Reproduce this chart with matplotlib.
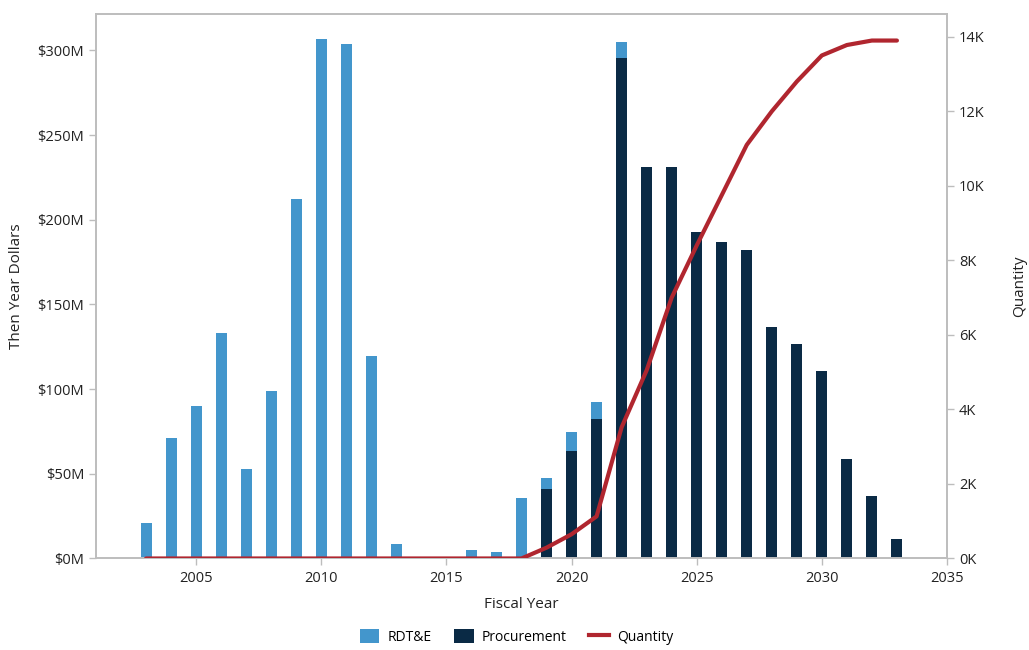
#!/usr/bin/env python3
"""Funding by fiscal year (stacked bars) with cumulative quantity line."""
import matplotlib
matplotlib.use("Agg")
import matplotlib.pyplot as plt
from matplotlib.ticker import FuncFormatter, FixedLocator
from matplotlib.patches import Patch
from matplotlib.lines import Line2D

years = list(range(2003, 2034))
# $M, then-year dollars
rdte = [21, 71, 90, 133, 53, 99, 212, 307, 304, 119.5, 8.5, 0, 0, 5, 4, 35.5,
        6.5, 11.2, 10, 9.5, 0, 0, 0, 0, 0, 0, 0, 0, 0, 0, 0]
procurement = [0, 0, 0, 0, 0, 0, 0, 0, 0, 0, 0, 0, 0, 0, 0, 0,
               41, 63.5, 82.5, 295.7, 231, 231, 192.7, 186.8, 182.2, 136.7,
               126.7, 110.7, 58.8, 36.9, 11.6]
# cumulative quantity, thousands
quantity = [0, 0, 0, 0, 0, 0, 0, 0, 0, 0, 0, 0, 0, 0, 0, 0,
            0.29, 0.65, 1.13, 3.52, 5.05, 7.0, 8.4, 9.75, 11.1, 12.0,
            12.8, 13.5, 13.78, 13.9, 13.9]

C_RDTE = "#4396CC"
C_PROC = "#0A2A45"
C_QTY = "#B0262F"
GRID = "#BDBDBD"

plt.rcParams["font.family"] = ["Open Sans", "DejaVu Sans"]

fig = plt.figure(figsize=(10.29, 6.5), dpi=100)
ax = fig.add_axes([0.0933, 0.1408, 0.8270, 0.8381])
ax2 = ax.twinx()

w = 0.44
ax.bar(years, procurement, width=w, color=C_PROC, zorder=2)
ax.bar(years, rdte, width=w, bottom=procurement, color=C_RDTE, zorder=2)
ax2.plot(years, quantity, color=C_QTY, lw=3, solid_capstyle="round", zorder=3)

ax.set_xlim(2001, 2035)
ax.set_ylim(0, 321.7)
ax2.set_ylim(0, 14.62)

ax.xaxis.set_major_locator(FixedLocator([2005, 2010, 2015, 2020, 2025, 2030, 2035]))
ax.yaxis.set_major_locator(FixedLocator([0, 50, 100, 150, 200, 250, 300]))
ax2.yaxis.set_major_locator(FixedLocator([0, 2, 4, 6, 8, 10, 12, 14]))
ax.yaxis.set_major_formatter(FuncFormatter(lambda v, p: f"${v:.0f}M"))
ax2.yaxis.set_major_formatter(FuncFormatter(lambda v, p: f"{v:.0f}K"))

for a in (ax, ax2):
    for s in a.spines.values():
        s.set_color(GRID)
        s.set_linewidth(1.2)
    a.tick_params(colors=GRID, labelcolor="#222222", labelsize=10.5, length=5, width=1)

ax.tick_params(axis="x", pad=4)
ax.set_xlabel("Fiscal Year", fontsize=11, color="#222222", labelpad=8)
ax.set_ylabel("Then Year Dollars", fontsize=11, color="#222222", labelpad=10)
ax2.set_ylabel("Quantity", fontsize=11, color="#222222", labelpad=20)

handles = [
    Patch(facecolor=C_RDTE, label="RDT&E"),
    Patch(facecolor=C_PROC, label="Procurement"),
    Line2D([0], [0], color=C_QTY, lw=3, label="Quantity"),
]
fig.legend(handles=handles, loc="center", bbox_to_anchor=(0.502, 0.02), ncol=3,
           frameon=False, fontsize=10, handlelength=1.4, handleheight=1.2,
           columnspacing=1.6, handletextpad=0.6)

fig.savefig("out.png", dpi=100)
plt.close(fig)
